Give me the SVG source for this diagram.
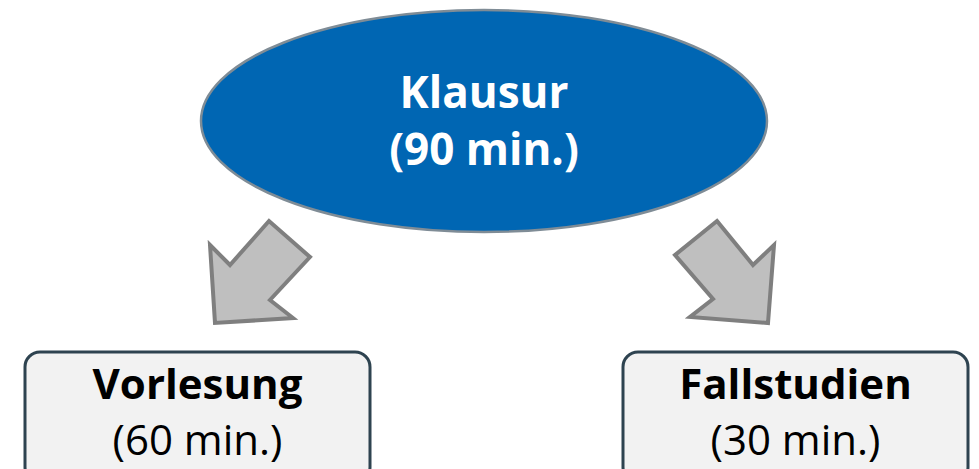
<svg xmlns="http://www.w3.org/2000/svg" width="979" height="469" viewBox="0 0 979 469">
<style>
.t{font-family:"Open Sans","Noto Sans","Liberation Sans",sans-serif;text-anchor:middle}
.b{font-weight:bold}
.box{fill:#f2f2f2;stroke:#2e4350;stroke-width:3}
.arr{fill:#bfbfbf;stroke:#7f7f7f;stroke-width:4;stroke-linejoin:miter}
</style>
<rect width="979" height="469" fill="#ffffff"/>
<g id="klausur">
<ellipse cx="484" cy="121" rx="283" ry="111" fill="#0066b3" stroke="#7f8c96" stroke-width="2.5"/>
<text class="t b" x="484" y="108" font-size="44" fill="#ffffff">Klausur</text>
<text class="t b" x="484" y="165" font-size="44" fill="#ffffff">(90 min.)</text>
</g>
<g id="connectors">
<polygon class="arr" points="210,245 230,265 269,221 310,257 270,300 293,318 215,323"/>
<polygon class="arr" points="717,221 753,265 774,245 768,323 690,317 713,299 675,255"/>
</g>
<g id="vorlesung">
<rect class="box" x="25" y="352" width="345" height="130" rx="15"/>
<text class="t b" x="197.5" y="399" font-size="42" fill="#000000">Vorlesung</text>
<text class="t" x="197.5" y="455" font-size="42" fill="#000000">(60 min.)</text>
</g>
<g id="fallstudien">
<rect class="box" x="623" y="352" width="345" height="130" rx="15"/>
<text class="t b" x="795.5" y="399" font-size="42" fill="#000000">Fallstudien</text>
<text class="t" x="795.5" y="455" font-size="42" fill="#000000">(30 min.)</text>
</g>
</svg>
